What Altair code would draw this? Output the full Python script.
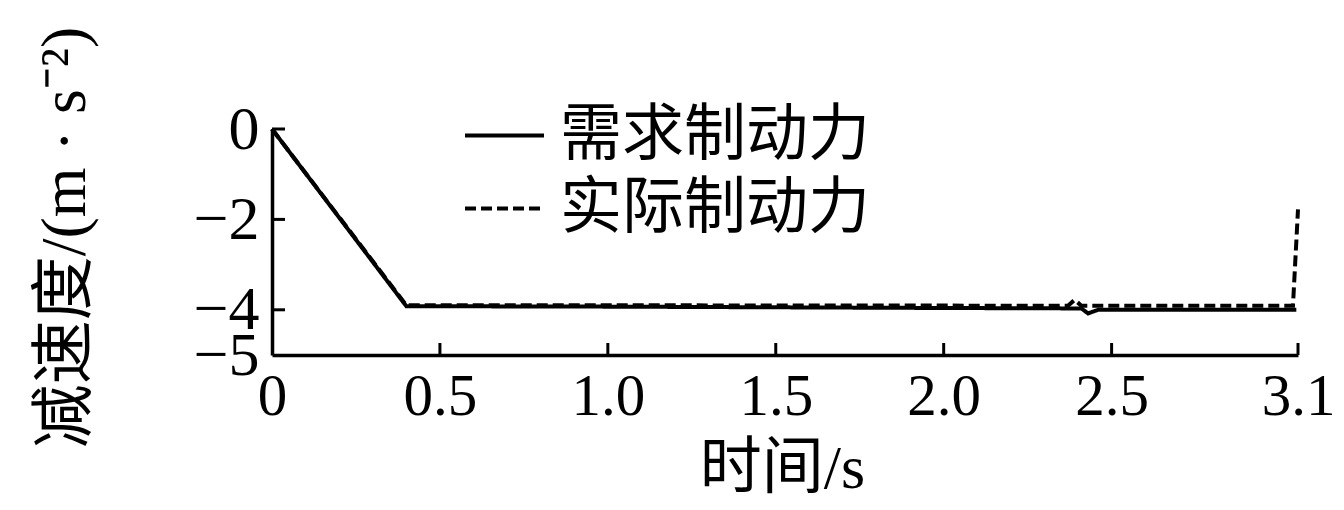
import altair as alt
import pandas as pd

# 需求制动力 (solid)
demand_t = [0.0, 0.40, 1.0, 2.0, 2.41, 2.43, 2.46, 3.05]
demand_a = [0.0, -3.92, -3.93, -3.96, -3.97, -4.08, -4.0, -4.0]
# 实际制动力 (dashed)
actual_t = [0.0, 0.40, 1.0, 2.37, 2.39, 2.41, 3.04, 3.055]
actual_a = [0.0, -3.90, -3.90, -3.91, -3.78, -3.91, -3.91, -1.78]

series_names = ["需求制动力", "实际制动力"]
x_ticks = [0, 0.5, 1.0, 1.5, 2.0, 2.5, 3.055]
y_ticks = [0, -2, -4, -5]
x_inner_ticks = [0.5, 1.0, 1.5, 2.0, 2.5, 3.055]
y_inner_ticks = [0, -2, -4]

rows = []
for i, (t, a) in enumerate(zip(actual_t, actual_a)):
    rows.append({"t": t, "a": a, "s": series_names[1], "o": i})
for i, (t, a) in enumerate(zip(demand_t, demand_a)):
    rows.append({"t": t, "a": a, "s": series_names[0], "o": i})
df = pd.DataFrame(rows)

FONT = "Liberation Serif, Noto Sans CJK SC"
W, H = 1026, 226

xscale = alt.Scale(domain=[0, 3.055], nice=False, zero=False)
yscale = alt.Scale(domain=[-5, 0], nice=False)

lines = alt.Chart(df).mark_line(color="black", strokeWidth=4, clip=False).encode(
    x=alt.X("t:Q", scale=xscale,
            axis=alt.Axis(values=x_ticks, ticks=False, tickSize=0, grid=False,
                          labelExpr="datum.value == 0 ? '0' : (datum.value > 3 ? '3.1' : format(datum.value, '.1f'))",
                          labelFont=FONT, labelFontSize=59, labelColor="black", labelPadding=12,
                          labelOverlap=False, labelFlush=False, labelBound=False,
                          domainColor="black", domainWidth=3.5,
                          title="时间/s", titleFont=FONT, titleFontSize=62, titleFontWeight="normal",
                          titleColor="black", titleX=510, titleY=113, titleAlign="center",
                          titleBaseline="middle")),
    y=alt.Y("a:Q", scale=yscale,
            axis=alt.Axis(values=y_ticks, ticks=False, tickSize=0, grid=False,
                          labelFont=FONT, labelFontSize=62, labelColor="black", labelPadding=13,
                          labelOverlap=False, labelBound=False, labelFlush=False,
                          domainColor="black", domainWidth=3.5,
                          title="减速度/(m · s⁻²)", titleFont=FONT, titleFontSize=64,
                          titleFontWeight="normal", titleColor="black", titleAngle=270,
                          titleX=-207, titleY=108, titleAlign="center", titleBaseline="middle")),
    strokeDash=alt.StrokeDash("s:N",
                              scale=alt.Scale(domain=series_names, range=[[1, 0], [11, 5]]),
                              legend=alt.Legend(orient="none", legendX=191, legendY=-35, title=None,
                                                symbolType="stroke", symbolSize=6241,
                                                symbolStrokeWidth=4, symbolStrokeColor="black",
                                                labelFont=FONT, labelFontSize=62, labelColor="black",
                                                labelOffset=14, rowPadding=-11, padding=0,
                                                labelLimit=600)),
    order="o:Q",
)

xt = pd.DataFrame({"v": x_inner_ticks})
xtick_marks = alt.Chart(xt).mark_rule(color="black", strokeWidth=3).encode(
    x=alt.X("v:Q", scale=xscale), y=alt.value(H), y2=alt.value(H - 12))

yt = pd.DataFrame({"v": y_inner_ticks})
ytick_marks = alt.Chart(yt).mark_rule(color="black", strokeWidth=3).encode(
    y=alt.Y("v:Q", scale=yscale), x=alt.value(0), x2=alt.value(13))

chart = alt.layer(lines, xtick_marks, ytick_marks).properties(
    width=W, height=H,
    autosize=alt.AutoSizeParams(type="none"),
    padding={"left": 264, "top": 121, "right": 38, "bottom": 147},
    background="white",
).configure_view(stroke="transparent")

chart.save("out.html", embed_options={"renderer": "svg", "actions": False})
